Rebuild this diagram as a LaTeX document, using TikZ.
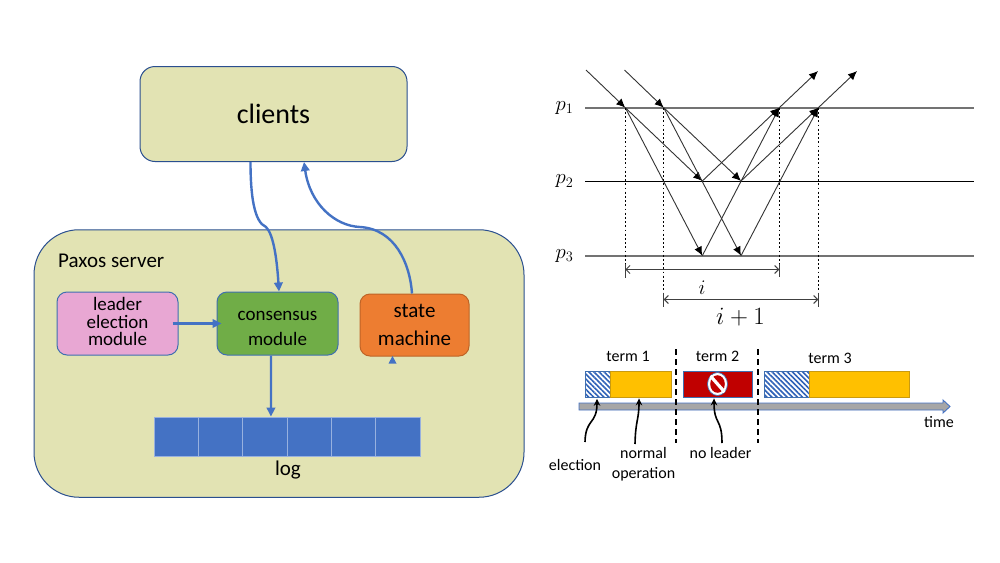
\documentclass[tikz,border=0pt]{standalone}
\usepackage[no-math]{fontspec}
\newfontfamily\carl{Carlito}
\usetikzlibrary{arrows.meta,patterns.meta,calc}
\definecolor{khaki}{HTML}{E2E3B3}
\definecolor{edgeblue}{HTML}{3F6FB0}
\definecolor{navyedge}{HTML}{2A4F8F}
\definecolor{flow}{HTML}{4472C4}
\definecolor{pinkbox}{HTML}{E8A7D3}
\definecolor{greenbox}{HTML}{70AD47}
\definecolor{orangebox}{HTML}{ED7D31}
\definecolor{goldbox}{HTML}{FFC000}
\definecolor{goldedge}{HTML}{C99A10}
\definecolor{redbox}{HTML}{C00000}
\definecolor{barfill}{HTML}{A6A6A6}
\definecolor{hatchblue}{HTML}{2F62B8}
\tikzset{
  fs/.style={font=\carl\fontsize{#1}{#1}\selectfont},
  panel/.style={draw=navyedge,fill=khaki,line width=1pt,inner sep=0pt},
  module/.style={draw=edgeblue,line width=1pt,rounded corners=10pt,inner sep=0pt,align=center},
  cell/.style={draw=#1,fill=flow,line width=0.8pt,minimum width=44.33pt,minimum height=39pt,inner sep=0pt},
  flowline/.style={draw=flow,line width=2.4pt,-{Triangle[length=9pt,width=8.5pt]}},
  hline/.style={draw=black!55,line width=2pt},
  hlinethin/.style={draw=black,line width=1pt},
  msg/.style={draw=black!80,line width=0.9pt,-{Latex[length=9pt,width=8pt,black]}},
  dots/.style={draw=black,line width=1.1pt,dash pattern=on 1.8pt off 2.4pt},
  tickl/.style={draw=black!75,line width=1pt},
  span/.style={draw=black!75,line width=1pt,{Straight Barb[length=4pt,width=8pt]}-{Straight Barb[length=4pt,width=8pt]}},
  hatch/.style={draw=edgeblue,line width=0.8pt,pattern={Lines[angle=-45,distance=3.6pt,line width=1.6pt]},pattern color=hatchblue,inner sep=0pt,minimum height=26pt},
  gold/.style={draw=goldedge,fill=goldbox,line width=0.8pt,inner sep=0pt,minimum height=26pt},
  divider/.style={draw=black,line width=2pt,dash pattern=on 6pt off 4pt},
  pointer/.style={draw=black,line width=1.6pt,-{Stealth[length=7pt,width=6.5pt]}},
  lbl/.style={fs=16,inner sep=0pt,align=center},
}
\begin{document}
\begin{tikzpicture}[x=1pt,y=-1pt]
\useasboundingbox (0,0) rectangle (1000,562);
\fill[white] (0,0) rectangle (1000,562);

% left: Paxos server
\node[panel,rounded corners=15pt,minimum width=267pt,minimum height=95pt,fs=28] (clients) at (273.5,114) {clients};
\node[panel,rounded corners=45pt,minimum width=490pt,minimum height=267.5pt] (server) at (279,363.5) {};
\node[fs=21,inner sep=0pt,anchor=west] (paxos) at (58,261) {Paxos server};
\node[module,fill=pinkbox,minimum width=121pt,minimum height=63pt,font=\carl\fontsize{19}{17.5}\selectfont] (leader) at (117.5,323.5) {leader\\election\\\rule[-4pt]{0pt}{0pt}module};
\node[module,fill=greenbox,minimum width=121pt,minimum height=63pt,font=\carl\fontsize{19}{25}\selectfont] (consensus) at (277.5,323.5) {\rule{0pt}{19pt}consensus\\module};
\node[module,draw=orangebox!80!black,fill=orangebox,minimum width=109pt,minimum height=62pt,font=\carl\fontsize{21}{27.5}\selectfont] (state) at (414.5,325) {state\\machine};
\foreach \k in {0,...,5}
  \node[cell=flow!55!white] (log\k) at ({176.2+\k*44.33},436.5) {};
\node[fs=21,inner sep=0pt] (loglabel) at (288,470) {log};

\coordinate (kink1) at (266,227);
\coordinate (kink2) at (360,227);
\path[flowline] ([xshift=-23pt]clients.south) .. controls +(0,33) and +(-12,-5) .. (kink1) .. controls +(8,8) and +(-2,-30) .. ([xshift=1.5pt]consensus.north);
\path[flowline] ([xshift=-2.5pt]state.north) .. controls +(-2,-30) and +(35,2) .. (kink2) .. controls +(-25,-1) and +(6,42) .. ([xshift=30.5pt]clients.south);
\path[flowline] ([xshift=-6pt]leader.east) -- ([xshift=5pt]consensus.west);
\path[flowline] ([xshift=-6.5pt]consensus.south) -- ([xshift=6.1pt]log2.north);
\coordinate (stub) at (392.5,363.5);
\fill[flow] (stub) ++(-4,0) -- ++(8,0) -- ++(-4,-7.5) -- cycle;

% right top: message diagram
\node[inner sep=0pt] (p1) at (564.5,108) {\huge$p_1$};
\node[inner sep=0pt] (p2) at (564.5,181.5) {\huge$p_2$};
\node[inner sep=0pt] (p3) at (564.5,256) {\huge$p_3$};
\coordinate (l1) at (585,108); \coordinate (r1) at (974,108);
\coordinate (l2) at (585,181.5); \coordinate (r2) at (974,181.5);
\coordinate (l3) at (585,256); \coordinate (r3) at (974,256);
\draw[hline] (l1) -- (r1);
\draw[hlinethin] (l2) -- (r2);
\draw[hline] (l3) -- (r3);
\coordinate (a) at (625.3,107.7); \coordinate (b) at (663.7,107.7);
\coordinate (c) at (779.3,107.7); \coordinate (d) at (818.3,107.7);
\coordinate (e) at (702.3,181);   \coordinate (f) at (741,181);
\coordinate (g) at (702.3,255.7); \coordinate (h) at (741,255.7);
\coordinate (ina) at (586,70);    \coordinate (inb) at (624.5,70);
\coordinate (outc) at (818,71);   \coordinate (outd) at (857,71);
\draw[msg] (ina) -- (a);
\draw[msg] (inb) -- (b);
\draw[msg] (c) -- (outc);
\draw[msg] (d) -- (outd);
\draw[msg] (a) -- (e);
\draw[msg] (a) -- (g);
\draw[msg] (b) -- (f);
\draw[msg] (b) -- (h);
\draw[msg] (e) -- (c);
\draw[msg] (f) -- (d);
\draw[msg] (g) -- (c);
\draw[msg] (h) -- (d);
\coordinate (a0) at (625.3,264); \coordinate (a1) at (625.3,278);
\coordinate (b0) at (663.7,293); \coordinate (b1) at (663.7,307);
\coordinate (c0) at (779.3,264); \coordinate (c1) at (779.3,277);
\coordinate (d0) at (818.3,293); \coordinate (d1) at (818.3,307);
\draw[dots] (a) -- (a0);
\draw[dots] (b) -- (b0);
\draw[dots] (c) -- (c0);
\draw[dots] (d) -- (d0);
\draw[tickl] (a0) -- (a1);
\draw[tickl] (b0) -- (b1);
\draw[tickl] (c0) -- (c1);
\draw[tickl] (d0) -- (d1);
\draw[span] (625.3,269.5) -- (779.3,269.5);
\draw[span] (663.7,299.5) -- (818.3,299.5);
\node[inner sep=0pt] (ilabel) at (702,288) {\huge$i$};
\node[inner sep=0pt] (iplus) at (740.5,317) {\Huge$i+1$};

% right bottom: terms timeline
\draw[draw=flow,fill=barfill,line width=0.9pt,line join=miter] (579,403) -- (943,403) -- (943,400) -- (950,406.5) -- (943,413) -- (943,410) -- (579,410) -- cycle;
\node[hatch,minimum width=24.5pt] (h1) at (597.7,384) {};
\node[gold,minimum width=61.5pt] (y1) at (640.7,384) {};
\node[draw=edgeblue,fill=redbox,line width=0.8pt,inner sep=0pt,minimum width=69pt,minimum height=26pt] (nolead) at (717.5,384) {};
\node[hatch,minimum width=45pt] (h3) at (786.5,384) {};
\node[gold,minimum width=100pt] (y3) at (859,384) {};
\draw[draw=edgeblue,line width=0.7pt,fill=white] (nolead.center) ellipse (10pt and 11.5pt);
\begin{scope}
\clip (nolead.center) ellipse (10pt and 11.5pt);
\fill[redbox] (nolead.center) ellipse (7.3pt and 8.8pt);
\draw[white,line width=3.2pt] ([shift={(-8,-9)}]nolead.center) -- ([shift={(8,9)}]nolead.center);
\end{scope}
\coordinate (dv1a) at (676,349); \coordinate (dv1b) at (676,443);
\coordinate (dv2a) at (758,349); \coordinate (dv2b) at (758,443);
\draw[divider] (dv1a) -- (dv1b);
\draw[divider] (dv2a) -- (dv2b);
\node[lbl] (t1) at (628,356) {term 1};
\node[lbl] (t2) at (717.5,356) {term 2};
\node[lbl] (t3) at (830,358) {term 3};
\node[lbl] (time) at (939,422) {time};
\node[lbl] (elect) at (575,465) {election};
\node[lbl,font=\carl\fontsize{16}{20}\selectfont] (normal) at (643.5,464) {normal\\operation};
\node[lbl] (nolabel) at (720.5,453) {no leader};
\coordinate (p1s) at (585,442);
\coordinate (p2s) at (635,444);
\coordinate (p3s) at (722,443);
\draw[pointer] (p1s) .. controls (585.5,418) and (597,425) .. ($(h1.south)+(-0.7,1)$);
\draw[pointer] (p2s) .. controls (635.5,420) and (639,420) .. ($(y1.south)+(-1.7,1)$);
\draw[pointer] (p3s) .. controls (722,418) and (714,425) .. ($(nolead.south)+(-3.5,1)$);
\end{tikzpicture}
\end{document}
